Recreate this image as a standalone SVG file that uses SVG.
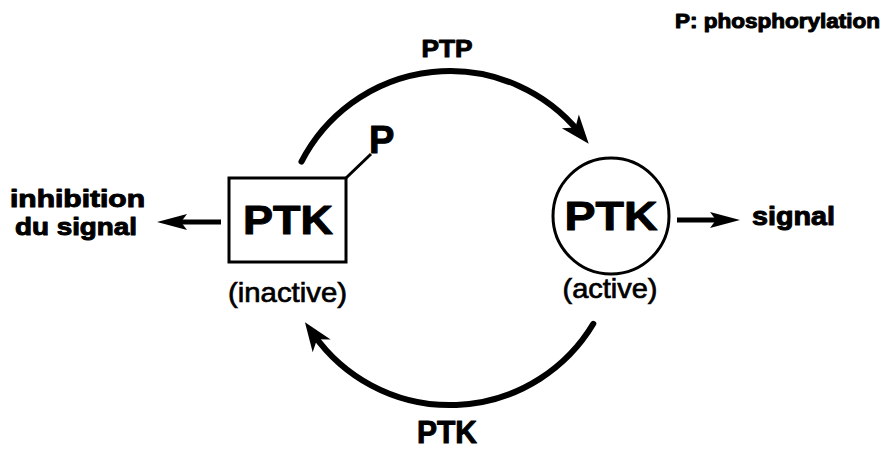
<svg xmlns="http://www.w3.org/2000/svg" width="883" height="449" viewBox="0 0 883 449">
  <style>
    .b { font-family: "Liberation Sans", Arial, Helvetica, sans-serif; font-weight: bold; fill: #000; stroke: #000; stroke-width: 1; stroke-linejoin: round; }
    .r { font-family: "Liberation Sans", Arial, Helvetica, sans-serif; font-weight: normal; fill: #000; stroke: #000; stroke-width: 0.7; }
    .m { text-anchor: middle; }
    .arc { fill: none; stroke: #000; stroke-width: 6; stroke-linecap: round; }
    .shaft { fill: none; stroke: #000; stroke-width: 5; }
    .outline { fill: none; stroke: #000; stroke-width: 3; }
  </style>
  <defs>
    <marker id="bigHead" markerUnits="userSpaceOnUse" viewBox="-20 -15 40 30" markerWidth="40" markerHeight="30" refX="0" refY="0" orient="auto" overflow="visible">
      <path d="M15,0 L-14,-11 L-6,0 L-14,11 Z" fill="#000"/>
    </marker>
    <marker id="smallHead" markerUnits="userSpaceOnUse" viewBox="-20 -15 40 30" markerWidth="40" markerHeight="30" refX="0" refY="0" orient="auto" overflow="visible">
      <path d="M15,0 L-15,-8 L-9,0 L-15,8 Z" fill="#000"/>
    </marker>
  </defs>

  <g id="legend">
    <text class="b" x="675" y="28" font-size="20" textLength="205" lengthAdjust="spacingAndGlyphs">P: phosphorylation</text>
  </g>

  <g id="connectors">
    <path class="arc" d="M301.5,161.7 A167,167 0 0 1 579.2,132.2" marker-end="url(#bigHead)"/>
    <path class="arc" d="M593.3,323.8 A167,167 0 0 1 313.6,334.4" marker-end="url(#bigHead)"/>
    <line class="shaft" x1="677" y1="220" x2="725" y2="220" marker-end="url(#smallHead)"/>
    <line class="shaft" x1="221" y1="222" x2="172" y2="222" marker-end="url(#smallHead)"/>
    <line class="outline" x1="346" y1="178" x2="371" y2="154"/>
  </g>

  <g id="label-PTP">
    <text class="b m" x="447" y="57" font-size="24" textLength="51" lengthAdjust="spacingAndGlyphs">PTP</text>
  </g>
  <g id="label-PTK-bottom">
    <text class="b m" x="447" y="443" font-size="31" textLength="60" lengthAdjust="spacingAndGlyphs">PTK</text>
  </g>

  <g id="node-inactive">
    <rect class="outline" x="229" y="178" width="117" height="84"/>
    <text class="b m" x="288" y="234" font-size="40" textLength="90" lengthAdjust="spacingAndGlyphs">PTK</text>
    <text class="r m" x="287.5" y="302" font-size="28" textLength="119" lengthAdjust="spacingAndGlyphs">(inactive)</text>
  </g>

  <g id="node-P">
    <text class="b" x="369" y="153" font-size="38">P</text>
  </g>

  <g id="node-active">
    <circle class="outline" cx="611" cy="216" r="58"/>
    <text class="b m" x="611" y="230" font-size="40" textLength="93" lengthAdjust="spacingAndGlyphs">PTK</text>
    <text class="r m" x="610" y="298" font-size="28" textLength="95" lengthAdjust="spacingAndGlyphs">(active)</text>
  </g>

  <g id="node-signal">
    <text class="b" x="752" y="225" font-size="25" textLength="83" lengthAdjust="spacingAndGlyphs">signal</text>
  </g>

  <g id="node-inhibition">
    <text class="b m" x="77.5" y="207" font-size="24" textLength="135" lengthAdjust="spacingAndGlyphs">inhibition</text>
    <text class="b m" x="76" y="235" font-size="24" textLength="122" lengthAdjust="spacingAndGlyphs">du signal</text>
  </g>
</svg>
